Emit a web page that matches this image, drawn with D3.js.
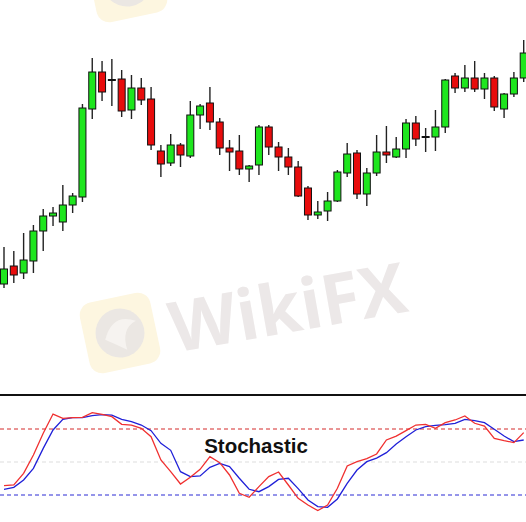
<!DOCTYPE html>
<html>
<head>
<meta charset="utf-8">
<script src="https://cdn.jsdelivr.net/npm/d3@7/dist/d3.min.js"></script>
<style>
  html, body { margin: 0; padding: 0; background: #fff; }
  svg { display: block; }
</style>
</head>
<body>
<div id="chart"></div>
<script>
// ---- Data (price units, higher = higher price) ----
const opens  = [116,134,127,139,169,184,178,195,203,291,328,320,321,290,312,301,249,237,255,244,285,297,278,252,249,231,235,273,253,243,233,212,185,189,199,227,247,206,227,248,243,251,277,263,263,273,324,312,322,311,322,291,306,322];
const highs  = [153,149,167,175,191,193,215,207,296,342,339,341,330,325,322,313,255,266,257,299,296,313,282,260,265,235,275,275,258,252,239,214,199,208,230,257,250,232,265,274,263,281,284,272,290,321,327,335,339,327,324,307,328,360];
const lows   = [112,117,121,127,149,174,169,187,198,281,299,294,283,281,295,250,223,234,233,242,271,270,245,229,225,218,225,245,229,225,203,180,181,179,198,223,201,194,224,237,242,242,254,248,249,267,307,308,308,301,289,282,303,318];
const closes = [131,125,140,169,184,187,195,204,292,328,308,320,289,312,300,255,236,255,245,285,294,278,252,248,231,234,273,253,243,233,204,185,188,199,228,246,206,227,248,245,251,277,261,263,273,320,312,322,311,322,293,306,322,347];

// Stochastic oscillator
const stochK = [28.5,29.1,39.7,56.4,76.1,93.6,89.7,90.3,90.6,94.8,93.3,91.2,84.2,83.6,80.6,73.0,51.8,41.2,30.0,36.1,43.3,54.8,49.4,38.2,21.5,17.9,27.6,36.7,40.9,29.1,17.0,10.9,5.8,10.9,26.1,46.4,50.3,53.0,57.3,70.0,73.6,78.5,83.6,84.2,80.6,85.8,88.2,91.8,85.2,82.7,71.5,69.4,67.6,76.7];
const stochD = [25.2,27.0,33.6,44.2,62.4,79.1,88.8,90.3,90.3,92.1,93.0,92.7,88.8,86.7,83.6,78.5,67.0,60.6,41.2,36.7,37.3,45.2,48.8,45.8,35.2,25.2,23.0,27.6,34.2,35.2,25.8,15.5,9.4,8.8,16.4,30.6,42.7,50.3,53.6,58.5,66.4,73.0,79.1,82.1,83.3,83.9,85.2,88.8,87.6,85.8,79.7,73.6,68.5,70.0];
const levels = [80, 50, 20];
const indicatorLabel = "Stochastic";
const watermarkText = "WikiFX";

const W = 526, H = 522;
const candles = opens.map((o, i) => ({ i, o, h: highs[i], l: lows[i], c: closes[i] }));

const svg = d3.select("#chart").append("svg").attr("width", W).attr("height", H);

// Scales
const x = d3.scalePoint().domain(d3.range(opens.length)).range([4, 523.7]);
const y = d3.scaleLinear().domain([0, 400]).range([400, 0]);
const ys = d3.scaleLinear().domain([0, 100]).range([517, 407]);

// ---- Watermarks ----
const wm = svg.append("g").attr("class", "watermark");
function logo(cx, cy, s, rot) {
  const g = wm.append("g").attr("transform", `translate(${cx},${cy}) rotate(${rot})`);
  g.append("rect").attr("x", -s/2).attr("y", -s/2).attr("width", s).attr("height", s)
    .attr("rx", s*0.18).attr("fill", "#fdf6e0");
  g.append("circle").attr("r", s*0.34).attr("fill", "#ebe7e3");
  g.append("path")
    .attr("d", `M${-s*0.22},${s*0.05} Q${-s*0.05},${-s*0.3} ${s*0.25},${-s*0.12} Q${s*0.02},${-s*0.05} ${s*0.05},${s*0.25} Q${-s*0.12},${s*0.12} ${-s*0.22},${s*0.05}Z`)
    .attr("fill", "#f6f3f0");
}
logo(120, 333, 72, -12);
logo(127, -18, 72, -12);
wm.append("text")
  .attr("transform", "translate(292,332) rotate(-10)")
  .attr("text-anchor", "middle")
  .attr("font-family", "'Open Sans', 'Liberation Sans', sans-serif")
  .attr("font-weight", "bold")
  .attr("font-size", 70)
  .attr("fill", "#ece8e8")
  .text(watermarkText);

// ---- Candles ----
const bodyW = 7;
const cg = svg.append("g").attr("class", "candles");
cg.selectAll("line.wick").data(candles).join("line")
  .attr("class", "wick")
  .attr("x1", d => x(d.i)).attr("x2", d => x(d.i))
  .attr("y1", d => y(d.h)).attr("y2", d => y(d.l))
  .attr("stroke", "#222").attr("stroke-width", 1.4);
cg.selectAll("rect.body").data(candles.filter(d => d.o !== d.c)).join("rect")
  .attr("class", "body")
  .attr("x", d => x(d.i) - bodyW/2)
  .attr("y", d => y(Math.max(d.o, d.c)))
  .attr("width", bodyW)
  .attr("height", d => Math.abs(y(d.o) - y(d.c)))
  .attr("fill", d => d.c > d.o ? "#1ee61e" : "#e80c0c")
  .attr("stroke", "#111").attr("stroke-width", 1);
cg.selectAll("line.doji").data(candles.filter(d => d.o === d.c)).join("line")
  .attr("class", "doji")
  .attr("x1", d => x(d.i) - bodyW/2 - 0.5).attr("x2", d => x(d.i) + bodyW/2 + 0.5)
  .attr("y1", d => y(d.o)).attr("y2", d => y(d.o))
  .attr("stroke", "#111").attr("stroke-width", 2);

// ---- Separator ----
svg.append("line").attr("x1", 0).attr("x2", W).attr("y1", 395).attr("y2", 395)
  .attr("stroke", "#111").attr("stroke-width", 2);

// ---- Stochastic panel ----
const lvlColors = { 80: "#d42a2a", 50: "#dddddd", 20: "#2a2ad4" };
svg.append("g").selectAll("line").data(levels).join("line")
  .attr("x1", 0).attr("x2", W)
  .attr("y1", d => ys(d)).attr("y2", d => ys(d))
  .attr("stroke", d => lvlColors[d])
  .attr("stroke-width", 1)
  .attr("stroke-dasharray", "4,3");

svg.append("text")
  .attr("x", 256).attr("y", 453)
  .attr("text-anchor", "middle")
  .attr("font-family", "'Liberation Sans', Arial, sans-serif")
  .attr("font-weight", "bold")
  .attr("font-size", 20.5)
  .attr("fill", "#111")
  .text(indicatorLabel);

const line = d3.line().x((d, i) => x(i)).y(d => ys(d));
svg.append("path").datum(stochD).attr("d", line)
  .attr("fill", "none").attr("stroke", "#2020d8").attr("stroke-width", 1.3);
svg.append("path").datum(stochK).attr("d", line)
  .attr("fill", "none").attr("stroke", "#f03030").attr("stroke-width", 1.3);
</script>
</body>
</html>
